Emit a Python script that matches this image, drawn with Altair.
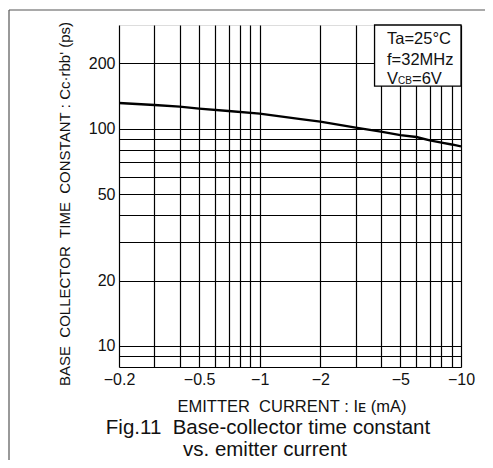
import json
import altair as alt
import pandas as pd

# ---- data ----
ie_ma = [-0.2, -0.3, -0.4, -0.5, -0.7, -1.0, -1.6, -2.0, -3.0, -4.0, -5.0, -6.0, -7.0, -8.0, -9.0, -10.0]
tau_ps = [131.3, 128.5, 126.3, 123.7, 120.6, 117.3, 110.7, 107.7, 101.1, 96.9, 93.4, 91.5, 88.3, 86.2, 84.6, 82.9]

x_grid = [-0.2, -0.3, -0.4, -0.5, -0.6, -0.7, -0.8, -0.9, -1, -2, -3, -4, -5, -6, -7, -8, -9, -10]
x_labels = [-0.2, -0.5, -1, -2, -5, -10]
y_grid = [8, 9, 10, 20, 30, 40, 50, 60, 70, 80, 90, 100, 200]
y_labels = [10, 20, 50, 100, 200]

x_domain = [-0.2, -10]
y_domain = [8, 300]

cond_box_x = [-3.72, -10]
cond_box_y = [157, 300]

FONT = "Liberation Sans"
NB = "\u00a0"

xs = alt.Scale(type="log", domain=x_domain)
ys = alt.Scale(type="log", domain=y_domain)

df = pd.DataFrame({"ie": ie_ma, "tau": tau_ps})

x_axis = alt.Axis(
    values=x_grid, grid=True, gridColor="black", gridWidth=1.2, gridOpacity=1,
    ticks=False, domain=False, labelPadding=4, labelFontSize=16, labelColor="#111",
    labelFont=FONT, title=None, format="~g", labelFlush=False, labelOverlap=False,
    labelExpr="indexof(%s, datum.value) >= 0 ? datum.label : ''" % json.dumps(x_labels),
)
y_axis = alt.Axis(
    values=y_grid, grid=True, gridColor="black", gridWidth=1.2, gridOpacity=1,
    ticks=False, domain=False, labelPadding=4, labelFontSize=16, labelColor="#111",
    labelFont=FONT, title=None, format="d", labelOverlap=False, labelFlush=False,
    labelExpr="indexof(%s, datum.value) >= 0 ? datum.label : ''" % json.dumps(y_labels),
)

curve = alt.Chart(df).mark_line(color="black", strokeWidth=2.4, clip=True).encode(
    x=alt.X("ie:Q", scale=xs, axis=x_axis),
    y=alt.Y("tau:Q", scale=ys, axis=y_axis),
)

box = alt.Chart(pd.DataFrame({"x": [cond_box_x[0]], "x2": [cond_box_x[1]],
                              "y": [cond_box_y[0]], "y2": [cond_box_y[1]]})).mark_rect(
    fill="white", stroke="black", strokeWidth=1.3
).encode(
    x=alt.X("x:Q", scale=xs), x2="x2:Q",
    y=alt.Y("y:Q", scale=ys), y2="y2:Q",
)


def label(text, x, y, size, align="left", angle=0, baseline="alphabetic", color="#111"):
    kw = dict(font=FONT, fontSize=size, align=align, baseline=baseline, color=color)
    if angle:
        kw["angle"] = angle
    return alt.Chart(pd.DataFrame({"t": [text]})).mark_text(**kw).encode(
        x=alt.value(x), y=alt.value(y), text="t:N"
    )


cond1 = label("Ta=25°C", 268, 18.5, 16.5)
cond2 = label("f=32MHz", 268, 39.5, 16.5)
cond3a = label("V", 268, 58.5, 16.5)
cond3b = label("CB", 279, 58.5, 10)
cond3c = label("=6V", 293, 58.5, 16.5)

y_title = label("BASE" + NB * 2 + "COLLECTOR" + NB * 2 + "TIME" + NB * 2 + "CONSTANT" + NB + ":" + NB +
                "Cc·rbb'" + NB + "(ps)", -54, 179, 15, align="center", angle=270, baseline="middle")
x_title = label("EMITTER" + NB * 2 + "CURRENT" + NB + ":" + NB + "I\u1d07" + NB + "(mA)", 173, 387, 16.5,
                align="center")
cap1 = label("Fig.11" + NB * 2 + "Base-collector time constant", 149, 409, 20.5, align="center")
cap2 = label("vs. emitter current", 146, 431, 20.5, align="center")

frame_src = pd.DataFrame({"k": [0]})
frame_top = alt.Chart(frame_src).mark_rule(color="#555", strokeWidth=1.2).encode(
    x=alt.value(-110), x2=alt.value(366), y=alt.value(-15)
)
frame_left = alt.Chart(frame_src).mark_rule(color="#555", strokeWidth=1.2).encode(
    x=alt.value(-110), y=alt.value(-15), y2=alt.value(435)
)

chart = alt.layer(
    curve, box, cond1, cond2, cond3a, cond3b, cond3c, y_title, x_title, cap1, cap2,
    frame_top, frame_left,
).properties(
    width=342, height=342,
    autosize=alt.AutoSizeParams(type="none"),
    padding={"left": 111, "top": 17, "right": 24, "bottom": 93},
    background="white",
).configure_view(stroke="black", strokeWidth=2.2).configure(font=FONT)

chart.save("out.html", embed_options={"renderer": "svg", "actions": False})
